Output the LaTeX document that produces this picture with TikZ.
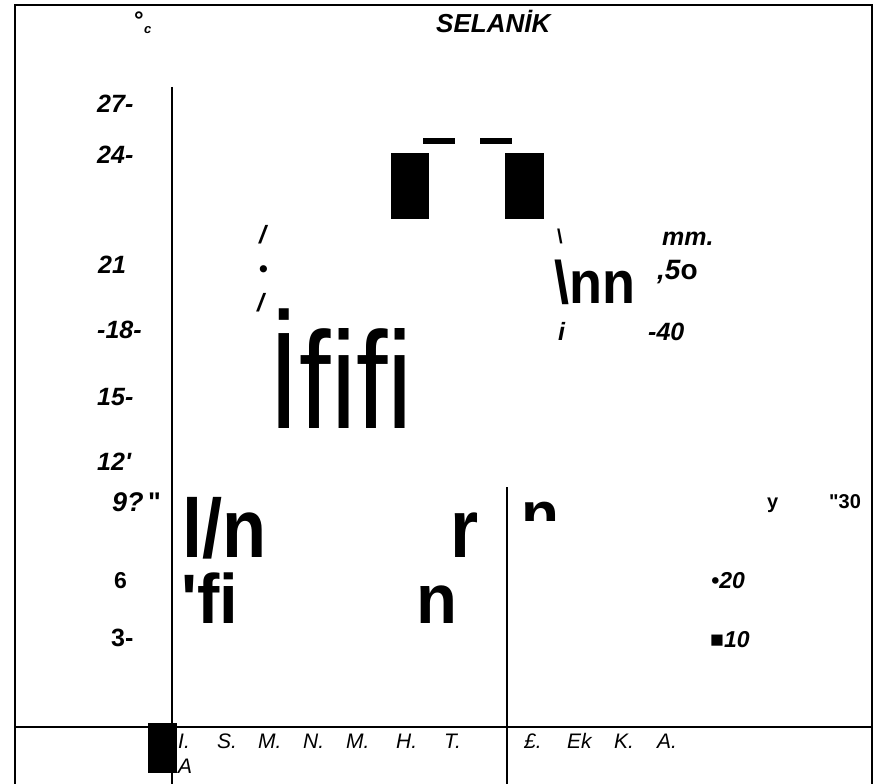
\documentclass[tikz,border=0pt]{standalone}
\usepackage{fontspec}
\setmainfont{Liberation Sans}[Ligatures=TeXOff]
\usetikzlibrary{positioning}
\tikzset{rule/.style={draw, line width=2.5pt}}

\begin{document}
\begin{tikzpicture}[x=1pt, y=-1pt,
  num/.style = {font=\bfseries\itshape\fontsize{25}{25}\selectfont, inner sep=0, anchor=base west},
  up/.style = {font=\bfseries\fontsize{25}{25}\selectfont, inner sep=0, anchor=base west},
  mon/.style = {font=\itshape\fontsize{21}{21}\selectfont, inner sep=0, anchor=base west},
  big/.style = {font=\bfseries\fontsize{83}{83}\selectfont, inner sep=0, anchor=base west, xscale=.87}]
\useasboundingbox (0,0) rectangle (876,784);
% frame and axes
\draw[rule] (15,784) -- (15,5) -- (872,5) -- (872,784);
\draw[rule] (15,727) -- (872,727);
\draw[line width=2pt] (172,87) -- (172,784);
\draw[line width=2pt] (507,487) -- (507,784);
% bars
\fill (391,153) rectangle (429,219);
\fill (505,153) rectangle (544,219);
\fill (423,138) rectangle (455,144);
\fill (480,138) rectangle (512,144);
\fill (148,723) rectangle (177,773);
% title
\node[up,font=\bfseries\fontsize{24}{24}\selectfont] (deg) at (134,29) {°};
\node[num,font=\bfseries\itshape\fontsize{13}{13}\selectfont] (c) at (144,34) {c};
\node[num,font=\bfseries\itshape\fontsize{26}{26}\selectfont] (title) at (436,33) {SELANİK};
% temperature scale
\node[num] (1) at (97,113) {27-};
\node[num] (2) at (97,163) {24-};
\node[num] (3) at (98,273) {21};
\node[num] (4) at (97,338) {-18-};
\node[num] (5) at (97,405) {15-};
\node[num] (6) at (97,470) {12'};
\node[num,font=\bfseries\itshape\fontsize{27}{27}\selectfont] (7) at (112,511) {9?\,\upshape"};
\node[up,font=\bfseries\fontsize{23}{23}\selectfont] (8) at (114,588) {6};
\node[up] (9) at (111,646) {3-};
% left curve marks
\node[num] (s1) at (259,243) {/};
\node[up] (s2) at (259,277) {•};
\node[num] (s3) at (257,311) {/};
\node[font=\fontsize{138}{138}\selectfont, inner sep=0, anchor=base west, xscale=.82] (ifi) at (268,428) {İfifi};
% right curve marks
\node[up,font=\bfseries\fontsize{20}{20}\selectfont] (r1) at (557,243) {\textbackslash};
\node[up,font=\bfseries\fontsize{60}{60}\selectfont, xscale=.9] (nn) at (554,303) {\textbackslash nn};
\node[num] (mm) at (662,245) {mm.};
\node[num,font=\bfseries\itshape\fontsize{28}{28}\selectfont] (p50) at (657,279) {,5\upshape o};
\node[num] (r2) at (558,340) {i};
\node[num] (p40) at (648,340) {-40};
% lower block
\node[big] (ln) at (182,557) {l/n};
\node[big] (r) at (450,557) {r};
\node[big,font=\bfseries\fontsize{70}{70}\selectfont, xscale=1.1] (fi) at (181,623) {'fi};
\node[big,font=\bfseries\fontsize{70}{70}\selectfont, xscale=1.1] (n) at (416,623) {n};
\begin{scope}
\clip (515,495) rectangle (575,520);
\node[up,font=\bfseries\fontsize{62}{62}\selectfont] (ncut) at (521,535) {n};
\end{scope}
% rainfall scale
\node[up,font=\bfseries\fontsize{20}{20}\selectfont] (yy) at (767,508) {y};
\node[up,font=\bfseries\fontsize{20}{20}\selectfont] (p30) at (829,508) {"30};
\node[num,font=\bfseries\itshape\fontsize{23}{23}\selectfont] (p20) at (711,588) {•20};
\node[num,font=\bfseries\itshape\fontsize{23}{23}\selectfont] (p10) at (710,647) {■10};
% months
\node[mon] (m1) at (178,748) {I.};
\node[mon] (m1b) at (178,773) {A};
\node[mon] (m2) at (217,748) {S.};
\node[mon] (m3) at (258,748) {M.};
\node[mon] (m4) at (303,748) {N.};
\node[mon] (m5) at (346,748) {M.};
\node[mon] (m6) at (396,748) {H.};
\node[mon] (m7) at (444,748) {T.};
\node[mon] (m8) at (524,748) {£.};
\node[mon] (m9) at (567,748) {Ek};
\node[mon] (m10) at (614,748) {K.};
\node[mon] (m11) at (657,748) {A.};
\end{tikzpicture}
\end{document}
